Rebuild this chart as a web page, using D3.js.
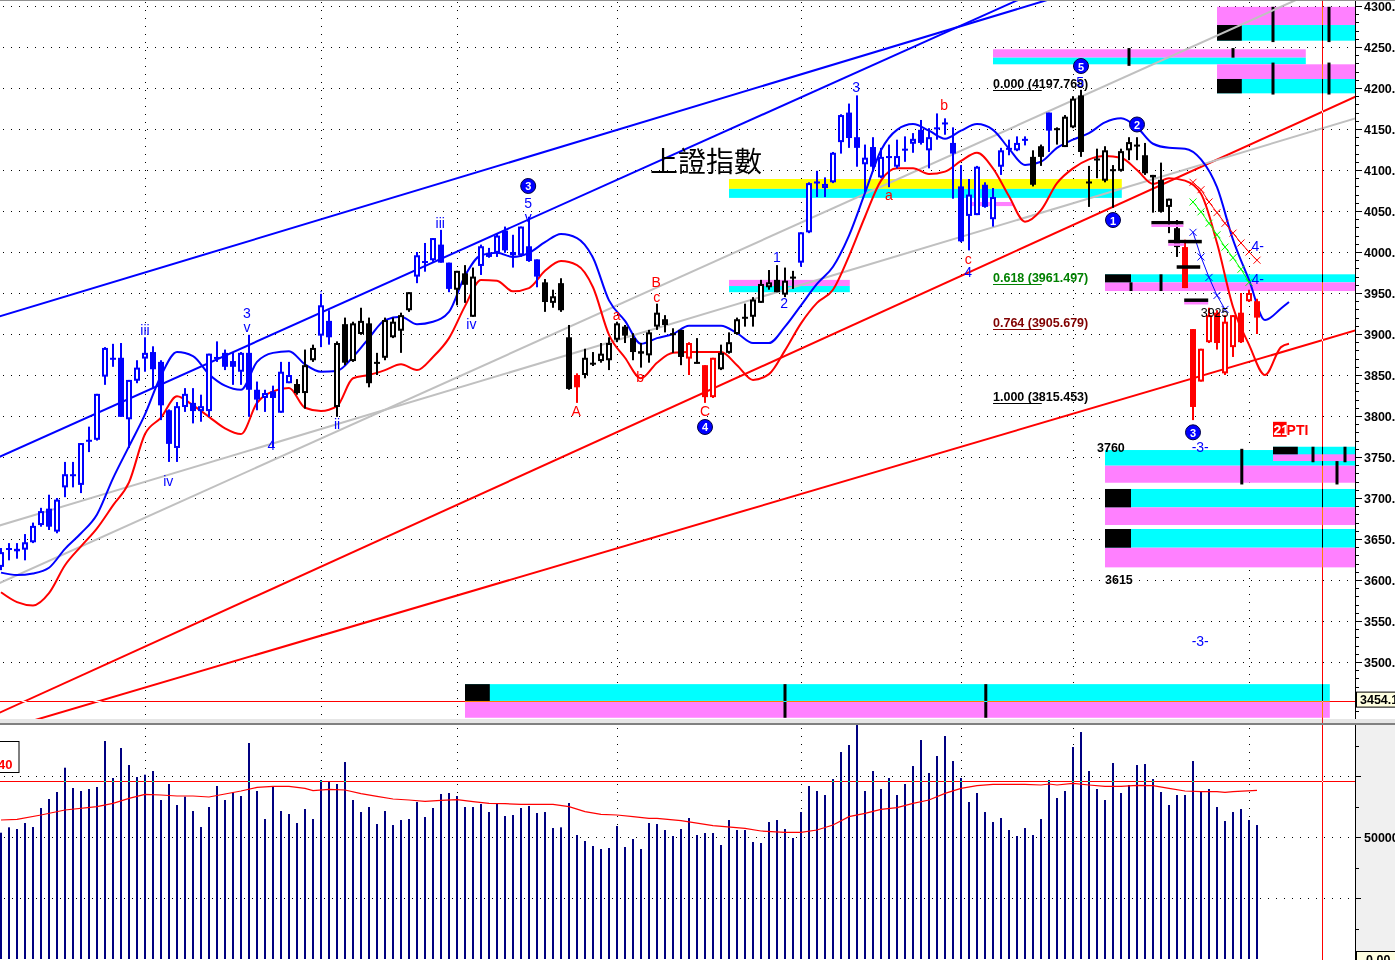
<!DOCTYPE html>
<html><head><meta charset="utf-8">
<script src="https://cdn.jsdelivr.net/npm/d3@7"></script>
<style>
html,body{margin:0;padding:0;background:#fff;overflow:hidden}
svg{display:block}
text{font-family:"Liberation Sans",Arial,sans-serif}
</style></head><body>
<svg id="c" width="1395" height="960"></svg>
<script>
// ---------------- DATA ----------------
const opens = [3616,3637,3635,3637,3646,3667,3687,3659,3713,3728,
3716,3770,3771,3848,3870,3871,3796,3843,3870,3878,
3866,3807,3761,3811,3816,3806,3806,3871,3877,3867,
3854,3877,3832,3822,3830,3804,3840,3839,3828,3868,
3898,3916,3811,3912,3867,3900,3913,3866,3871,3896,
3904,3929,3970,3988,3990,4009,3987,3954,3974,3921,
3983,3999,3999,4026,3996,3996,4007,3991,3963,3938,
3962,3896,3850,3850,3863,3867,3868,3893,3909,3895,
3879,3874,3909,3918,3901,3905,3870,3865,3862,3823,
3857,3877,3900,3920,3921,3938,3957,3966,3948,3969,
3987,4024,4085,4078,4085,4134,4170,4140,4107,4128,
4091,4116,4104,4125,4132,4149,4124,4151,4157,4133,
4080,4044,4045,4082,4040,4104,4126,4124,4137,4116,
4129,4170,4150,4128,4152,4191,4085,4113,4087,4100,
4099,4124,4130,4118,4094,4088,4055,4029,4006,3906,
3842,3890,3926,3852,3884,3926,3940,3940];
const highs = [3639,3645,3645,3656,3670,3688,3704,3700,3744,3744,
3767,3787,3827,3884,3888,3889,3844,3868,3896,3885,
3868,3808,3817,3834,3834,3826,3876,3891,3881,3878,
3878,3899,3842,3832,3837,3866,3866,3845,3881,3887,
3949,3929,3891,3920,3915,3932,3920,3877,3920,3920,
3926,3951,4000,4011,4017,4027,3987,3977,3984,3981,
4009,4005,4023,4031,4021,4031,4043,3991,3967,3954,
3968,3911,3852,3882,3878,3889,3896,3915,3911,3901,
3889,3905,3937,3923,3907,3905,3890,3895,3862,3871,
3887,3902,3920,3937,3945,3966,3978,3984,3981,3977,
4024,4085,4099,4091,4122,4168,4181,4191,4131,4140,
4127,4131,4137,4141,4145,4161,4151,4169,4163,4152,
4106,4089,4105,4085,4078,4127,4137,4141,4141,4124,
4131,4170,4152,4167,4190,4197.77,4105,4126,4129,4106,
4126,4140,4140,4133,4094,4109,4065,4039,4015,3906,
3882,3932,3929,3923,3923,3950,3954,3943];
const lows = [3612,3624,3626,3624,3645,3665,3661,3657,3701,3713,
3706,3756,3770,3838,3860,3799,3761,3840,3854,3834,
3795,3744,3744,3805,3791,3793,3799,3866,3856,3838,
3838,3799,3807,3805,3761,3804,3840,3826,3809,3866,
3884,3887,3799,3862,3866,3899,3835,3850,3868,3895,
3877,3927,3962,3976,3988,3987,3951,3935,3938,3921,
3972,3993,3994,3999,3981,3994,3988,3957,3927,3932,
3927,3832,3816,3846,3861,3865,3856,3890,3889,3868,
3859,3865,3905,3902,3877,3862,3850,3864,3816,3822,
3856,3876,3899,3909,3909,3938,3954,3951,3945,3955,
3982,4023,4067,4067,4084,4120,4127,4104,4073,4098,
4090,4079,4102,4110,4121,4131,4102,4137,4143,4065,
4012,4002,4045,4054,4031,4094,4118,4123,4130,4080,
4105,4122,4131,4128,4151,4116,4055,4090,4085,4054,
4098,4112,4112,4094,4048,4048,4023,3994,3956,3795,
3842,3889,3881,3850,3872,3889,3939,3900];
const closes = [3634,3639,3638,3646,3666,3684,3665,3698,3729,3729,
3767,3771,3827,3883,3871,3799,3844,3859,3877,3857,
3813,3766,3812,3827,3806,3812,3876,3872,3860,3860,
3877,3832,3820,3828,3822,3854,3850,3828,3862,3883,
3935,3896,3889,3865,3913,3916,3840,3866,3917,3915,
3923,3951,3996,3989,4017,3987,3955,3977,3960,3970,
4007,3994,4020,4002,4000,4031,3989,3970,3939,3946,
3929,3833,3835,3871,3865,3876,3889,3913,3898,3878,
3876,3902,3926,3911,3901,3872,3889,3866,3823,3871,
3877,3890,3918,3921,3942,3961,3963,3951,3965,3970,
4024,4084,4086,4083,4121,4167,4139,4127,4115,4104,
4116,4117,4117,4126,4138,4133,4140,4152,4158,4120,
4013,4070,4104,4055,4067,4124,4127,4133,4138,4082,
4116,4148,4151,4165,4187,4122,4086,4114,4124,4101,
4123,4134,4131,4096,4091,4049,4065,4006,3956,3811,
3882,3923,3889,3915,3923,3890,3950,3920];
// b = blue, k = black, r = red
const candleColors = "bbbbbbbbbb"+"bbbbbbbbbb"+"bbbbbbbbbb"+"bbbbbbb"+"kkk"+"bb"+"kkkkkkkkkk"+"bbbbb"+"kkk"+"bbbbbbbb"+"kkkk"+"r"+"kkkkkkkkkkkkk"+"r"+"k"+"rr"+"kkkkkkkkkk"+"bbbbbbbbbb"+"bbbbbbbbbb"+"bbbbbbbbb"+"kk"+"b"+"kkkkkkkkkkkkkkkk"+"rrrrrrrrrr";

const volumes = [51760,53960,53270,55730,54090,61880,65570,68440,78400,70080,
68850,69670,70490,89340,74170,86470,79500,74580,75540,77040,
65160,71720,63110,66520,60650,54090,62290,70900,65160,68160,
66800,88520,68850,57370,70620,60650,59420,55730,61470,57370,
73350,72530,71720,80730,65160,60240,62290,55320,60650,54910,
56960,57370,64340,58190,61880,67620,68030,66800,62290,62290,
63520,60240,63930,58600,59010,61880,62700,59830,60240,53680,
53960,63930,50820,48360,46310,45080,45490,54500,45900,49180,
45080,55730,55320,52860,50410,53270,57780,50820,51630,51630,
46720,56960,52860,52860,47950,47540,56140,56960,53270,49590,
60240,70900,68850,67210,73760,84830,87700,95890,68850,77040,
69670,74170,67210,71720,79090,89750,76220,83190,91390,81140,
74170,64340,68030,60240,56140,57780,52860,50410,53680,50820,
57370,73350,65980,68850,86880,93020,77040,69670,65160,80320,
68030,71310,79500,79910,73760,68440,63110,67210,67210,81140,
68440,69670,62290,56550,60240,61470,56960,54910];

const volMaIdx = [0,2,5,8,12,14,16,18,20,22,24,26,28,30,32,34,36,38,39,41,43,45,47,49,51,53,55,57,59,61,63,65,67,69,71,73,75,77,79,81,82,85,89,93,95,98,100,102,104,106,108,110,112,114,116,118,120,122,124,126,128,130,131,132,134,136,138,140,142,144,146,148,150,152,153,154,157];
const volMaVal = [56960,57230,59010,61060,62430,63790,65840,67480,67210,66800,66800,66390,67620,68850,70350,70760,70760,69940,68990,69530,69260,67760,66660,65570,65160,64610,65020,65300,64480,63790,63660,63380,63380,63380,62430,60370,59280,59010,58330,57640,57640,56690,54640,53540,52450,51900,51900,52860,54910,58330,59700,61330,62020,63790,65160,67890,69940,71030,71580,71580,71580,71310,71720,71310,71990,71310,70760,70760,71170,71030,69940,68850,68580,68580,68300,68580,69120];

const bandIdx = [0,2,4,6,8,10,12,14,16,18,20,22,24,26,28,30,32,34,36,38,40,42,44,46,48,50,52,54,56,58,60,62,64,66,68,70,72,74,76,78,80,82,84,86,88,90,92,94,96,98,100,102,104,106,108,110,112,114,116,118,120,122,124,126,128,130,132,134,136,138,140,142,144,146,148,150,152,154,156,158,160,161];
const bandUpper = [3609,3606,3608,3615,3638,3657,3680,3724,3763,3802,
3849,3878,3873,3851,3837,3832,3866,3877,3879,3863,
3854,3855,3872,3895,3917,3921,3912,3915,3927,3971,
3996,3999,3994,3999,4012,4022,4017,3993,3941,3916,
3888,3895,3900,3910,3910,3910,3901,3889,3889,3909,
3935,3961,3982,4020,4072,4124,4149,4156,4148,4138,
4148,4156,4149,4126,4106,4110,4127,4137,4145,4158,
4163,4152,4132,4127,4126,4113,4079,4015,3966,3917,
3931,3939];
const bandLower = [3585,3573,3569,3584,3618,3641,3663,3691,3719,3778,
3798,3824,3813,3799,3785,3778,3816,3830,3834,3810,
3806,3812,3846,3850,3856,3863,3856,3872,3895,3934,
3966,3965,3952,3956,3977,3989,3984,3957,3899,3871,
3846,3865,3877,3878,3878,3878,3862,3844,3851,3880,
3913,3938,3954,3995,4043,4087,4102,4102,4095,4098,
4111,4121,4102,4068,4037,4051,4084,4102,4113,4117,
4115,4100,4083,4090,4087,4071,4011,3933,3887,3850,
3884,3888];

const priceTicks = [3500,3550,3600,3650,3700,3750,3800,3850,3900,3950,4000,4050,4100,4150,4200,4250,4300];
const monthIdx = [18,40,57,77,100,120,134,156];

// trendlines: start index/price, end index/price
const lineI0 = [0,0,0,0,0,0];
const lineP0 = [3922,3751,3439,3417,3597,3667];
const lineI1 = [130,125,169,169,165,169];
const lineP1 = [4305,4298,4188,3903.5,4321,4162];
const lineKind = ["blue","blue","red","red","gray","gray"];

// price zones
const zoneStart = [58.0,91.0,120.9,91.0,138.0,124.0,152.0,152.0,138.0,159.0,138.0,138.0];
const zoneEnd   = [166.1,140.1,126.5,106.1,169.25,163.1,169.25,169.25,169.25,169.25,169.25,169.25];
const zoneTop   = [3473,4089,4061,3966,3972.8,4247.2,4299,4228.9,3758.5,3762.5,3711,3662.2];
const zoneMid   = [3452.5,4077,4056,3958.5,3963,4237,4276.8,4211,3739.4,3753.3,3688.6,3639.4];
const zoneBot   = [3432,4066,4056,3951,3952.4,4228.9,4257.7,4193.5,3718.6,3745.1,3667.1,3615.4];
const zoneKind  = ["cm","yc","m","mc","cm","mc","mc","mc","cm","cm","cm","cm"];
const zoneBlockEnd = [61.1,null,null,null,141.25,null,155.1,155.1,null,162.1,141.25,141.25];
const tickIdx  = [98.0,123.1,141.25,145.0,141.0,154.0,159.0,166.0,159.0,166.0,155.1,167.0,164.0,168.0];
const tickTop  = [3473,3473,3963,3972.8,4248.7,4248.7,4299,4299,4231,4231,3760,3745,3762.5,3762.5];
const tickBot  = [3432,3432,3952.4,3952.4,4227,4237,4256,4256,4192,4192,3716.5,3716.5,3743.6,3743.6];

// fibonacci levels
const fibRatio = ["0.000","0.618","0.764","1.000"];
const fibPrice = [4197.768,3961.497,3905.679,3815.453];
const fibColor = ["#000000","#008000","#800000","#000000"];

// wave labels
const waveText  = ["iii","3","v","iv","4","i","ii","iii","iv","5","v","1","2","3","4","5","-3-","-3-","4-","4-"];
const waveIdx   = [18.0,30.75,30.75,20.9,33.8,40,42,54.9,58.8,65.9,65.9,97,97.9,106.9,120.9,134.9,149.9,149.9,157.1,157.1];
const wavePrice = [3904.9,3925.6,3908.5,3720.7,3764.6,3945.1,3790.2,4035.4,3912.2,4059.7,4043.0,3994.3,3938.2,4201.2,3976.0,4207.7,3762.2,3525.6,4007.3,3967.1];
const abcText  = ["A","a","b","B","c","C","a","b","c"];
const abcIdx   = [71.9,76.96,79.9,81.9,81.96,88,111,117.9,120.9];
const abcPrice = [3806.5,3923.2,3847.9,3963.8,3944.7,3806.5,4069.5,4179.3,3991.5];
const circleText  = ["3","4","5","2","1","3"];
const circleIdx   = [65.9,88,135,142,139,149];
const circlePrice = [4080.5,3786.6,4226.8,4155.5,4039.0,3780.1];

// projection crosses
const redXIdx = [149,150,151,152,153,154,155,156,157];
const redXVal = [4085,4076,4061,4048,4035,4023,4011,4000,3990];
const greenXIdx = [149,150,151,152,153,154,155,156];
const greenXVal = [4061,4049,4035,4021,4006,3993,3979,3963];
const blueXIdx = [149,150,151,152,153];
const blueXVal = [4024,3994,3969,3947,3930];

// target marks
const markStart = [143.8,145.9,146.96,147.9];
const markEnd   = [147.8,150.1,149.9,150.9];
const markLineEnd = [147.8,147.9,null,150.9];
const markPrice = [4036,4013,3982,3941.5];

const cursorIdx = 165.1, cursorPrice = 3453, cursorVol = 72940;

// ---------------- DRAW ----------------
const svg = d3.select('#c');
const PW = 1355, PH = 719, VT = 725, VB = 960;
const x = d3.scaleLinear().domain([0,169.25]).range([1,1355]);
const y = d3.scaleLinear().domain([3500,4300]).range([662,6]);
const yv = d3.scaleLinear().domain([0,50000]).range([959,837]);
const BLUE="#0000ff", RED="#ff0000", CYAN="#00ffff", MAG="#ff80ff", YEL="#ffff00";
const colorMap = {b:BLUE,k:"#000000",r:RED};

svg.append('rect').attr('width',1395).attr('height',960).attr('fill','#fff');
const defs = svg.append('defs');
defs.append('clipPath').attr('id','pc').append('rect').attr('x',0).attr('y',0).attr('width',PW).attr('height',PH);
defs.append('clipPath').attr('id','vc').append('rect').attr('x',0).attr('y',VT).attr('width',PW).attr('height',VB-VT);

const P = svg.append('g').attr('clip-path','url(#pc)');

// grid
const grid = P.append('g').attr('stroke','#000').attr('stroke-width',1).attr('stroke-dasharray','1,7');
priceTicks.forEach(v=>{
  const yy = Math.round(y(v))+0.5;
  grid.append('line').attr('x1',3).attr('x2',PW).attr('y1',yy).attr('y2',yy);
});
monthIdx.forEach(i=>{
  const xx = Math.round(x(i))+0.5;
  grid.append('line').attr('x1',xx).attr('x2',xx).attr('y1',2).attr('y2',PH);
});

// zones
const Z = P.append('g');
zoneStart.forEach((s,k)=>{
  const x0 = x(s), x1 = x(zoneEnd[k]);
  const yT = y(zoneTop[k]), yM = y(zoneMid[k]), yB = y(zoneBot[k]);
  const kind = zoneKind[k];
  const cTop = kind==='cm'?CYAN:(kind==='yc'?YEL:MAG);
  const cBot = kind==='cm'?MAG:CYAN;
  if(kind==='m'){
    Z.append('rect').attr('x',x0).attr('y',yT).attr('width',x1-x0).attr('height',yB-yT).attr('fill',MAG);
    return;
  }
  Z.append('rect').attr('x',x0).attr('y',yT).attr('width',x1-x0).attr('height',yM-yT).attr('fill',cTop);
  Z.append('rect').attr('x',x0).attr('y',yM).attr('width',x1-x0).attr('height',yB-yM).attr('fill',cBot);
  if(zoneBlockEnd[k]!==null){
    const xb = x(zoneBlockEnd[k]);
    if(kind==='cm') Z.append('rect').attr('x',x0).attr('y',yT).attr('width',xb-x0).attr('height',yM-yT).attr('fill','#000');
    else Z.append('rect').attr('x',x0).attr('y',yM).attr('width',xb-x0).attr('height',yB-yM).attr('fill','#000');
  }
});
tickIdx.forEach((t,k)=>{
  Z.append('rect').attr('x',x(t)-1.5).attr('y',y(tickTop[k])).attr('width',3)
   .attr('height',y(tickBot[k])-y(tickTop[k])).attr('fill','#000');
});

// trendlines
const lineColors = {blue:BLUE, red:RED, gray:"#c0c0c0"};
lineI0.forEach((i0,k)=>{
  const xa = x(i0), ya = y(lineP0[k]), xb = x(lineI1[k]), yb = y(lineP1[k]);
  const m = (yb-ya)/(xb-xa);
  const X0 = -20, X1 = 1400;
  P.append('line').attr('x1',X0).attr('y1',ya+m*(X0-xa)).attr('x2',X1).attr('y2',ya+m*(X1-xa))
   .attr('stroke',lineColors[lineKind[k]]).attr('stroke-width',2);
});

// band curves
const bandLine = (vals)=> d3.line().x((d,j)=>x(bandIdx[j])).y(d=>y(d)).curve(d3.curveMonotoneX)(vals);
P.append('path').attr('d',bandLine(bandUpper)).attr('fill','none').attr('stroke',BLUE).attr('stroke-width',2);
P.append('path').attr('d',bandLine(bandLower)).attr('fill','none').attr('stroke',RED).attr('stroke-width',2);

// projection crosses
function crosses(idx, vals, col){
  const g = P.append('g').attr('stroke',col).attr('fill','none').attr('stroke-width',1);
  g.append('path').attr('d', d3.line().x((d,j)=>x(idx[j])).y(d=>y(d))(vals));
  idx.forEach((i,j)=>{
    const cx = x(i), cy = y(vals[j]);
    g.append('path').attr('d',`M${cx-3.5},${cy-3.5}L${cx+3.5},${cy+3.5}M${cx-3.5},${cy+3.5}L${cx+3.5},${cy-3.5}`);
  });
}
crosses(redXIdx, redXVal, RED);
crosses(greenXIdx, greenXVal, "#00ff00");
crosses(blueXIdx, blueXVal, BLUE);

// candles
const C = P.append('g');
opens.forEach((o,i)=>{
  const cx = Math.round(x(i));
  const col = colorMap[candleColors[i]];
  const h = highs[i], l = lows[i], c = closes[i];
  C.append('rect').attr('x',cx-1).attr('y',y(h)).attr('width',2).attr('height',Math.max(1,y(l)-y(h))).attr('fill',col);
  const top = y(Math.max(o,c)), bot = y(Math.min(o,c));
  const bh = Math.max(bot-top,2);
  if(c>o && bh>3){
    C.append('rect').attr('x',cx-2).attr('y',top+1).attr('width',4).attr('height',bh-2)
     .attr('fill','#fff').attr('stroke',col).attr('stroke-width',2);
  } else {
    C.append('rect').attr('x',cx-3).attr('y',top).attr('width',6).attr('height',bh).attr('fill',col);
  }
});

// target marks
markStart.forEach((s,k)=>{
  const yy = y(markPrice[k]);
  P.append('rect').attr('x',x(s)).attr('y',yy-1.5).attr('width',x(markEnd[k])-x(s)).attr('height',3.5).attr('fill','#000');
  if(markLineEnd[k]!==null)
    P.append('rect').attr('x',x(s)).attr('y',yy+2).attr('width',x(markLineEnd[k])-x(s)).attr('height',2.5).attr('fill',MAG);
});

// fib labels
fibPrice.forEach((p,k)=>{
  const yy = y(p);
  P.append('line').attr('x1',x(124)).attr('x2',x(130.1)).attr('y1',Math.round(yy)+0.5).attr('y2',Math.round(yy)+0.5)
   .attr('stroke',fibColor[k]).attr('stroke-width',1);
  P.append('text').attr('x',x(124)).attr('y',yy-2).attr('fill',fibColor[k])
   .attr('font-size','12.5px').attr('font-weight','bold')
   .text(`${fibRatio[k]} (${p.toFixed(3)})`);
});

// title
P.append('text').attr('x',650).attr('y',172).attr('font-size','28px')
 .style('font-family','"Noto Sans CJK TC","Noto Sans CJK SC",sans-serif').attr('fill','#000').text('上證指數');

// wave labels
waveText.forEach((t,k)=>{
  P.append('text').attr('x',x(waveIdx[k])).attr('y',y(wavePrice[k])).attr('text-anchor','middle')
   .attr('dominant-baseline','central').attr('font-size','14px').attr('fill',BLUE).text(t);
});
abcText.forEach((t,k)=>{
  P.append('text').attr('x',x(abcIdx[k])).attr('y',y(abcPrice[k])).attr('text-anchor','middle')
   .attr('dominant-baseline','central').attr('font-size','14px').attr('fill',RED).text(t);
});
circleText.forEach((t,k)=>{
  const cx = x(circleIdx[k]), cy = y(circlePrice[k]);
  P.append('circle').attr('cx',cx).attr('cy',cy).attr('r',7.5).attr('fill',BLUE).attr('stroke','#000040').attr('stroke-width',1);
  P.append('text').attr('x',cx).attr('y',cy+0.5).attr('text-anchor','middle').attr('dominant-baseline','central')
   .attr('font-size','11px').attr('font-weight','bold').attr('fill','#fff').text(t);
});
P.append('text').attr('x',x(151.7)).attr('y',y(3925.6)).attr('text-anchor','middle').attr('dominant-baseline','central')
 .attr('font-size','12.5px').attr('fill','#000').text('3925');
P.append('text').attr('x',x(137.0)).attr('y',y(3756.1)).attr('font-size','12.5px').attr('font-weight','bold').attr('fill','#000').text('3760');
P.append('text').attr('x',x(138.0)).attr('y',y(3595.1)).attr('font-size','12.5px').attr('font-weight','bold').attr('fill','#000').text('3615');
// 21PTI
P.append('rect').attr('x',x(159.0)).attr('y',y(3792.9)).attr('width',x(160.7)-x(159.0)).attr('height',y(3774.6)-y(3792.9)).attr('fill',RED);
P.append('text').attr('x',x(159.0)+0.5).attr('y',y(3776.5)).attr('font-size','14px').attr('font-weight','bold').attr('fill','#fff').text('21');
P.append('text').attr('x',x(160.7)).attr('y',y(3776.5)).attr('font-size','14px').attr('font-weight','bold').attr('fill',RED).text('PTI');

// ---------------- VOLUME PANEL ----------------
const V = svg.append('g').attr('clip-path','url(#vc)');
const vgrid = V.append('g').attr('stroke','#000').attr('stroke-dasharray','1,7');
[25000,50000,75000].forEach(v=>{
  const yy = Math.round(yv(v))+0.5;
  vgrid.append('line').attr('x1',4).attr('x2',PW).attr('y1',yy).attr('y2',yy);
});
monthIdx.forEach(i=>{
  const xx = Math.round(x(i))+0.5;
  vgrid.append('line').attr('x1',xx).attr('x2',xx).attr('y1',VT+3).attr('y2',VB);
});
volumes.forEach((v,i)=>{
  const cx = Math.round(x(i));
  V.append('rect').attr('x',cx-1).attr('y',yv(v)).attr('width',2).attr('height',yv(0)-yv(v)).attr('fill','#000080');
});
V.append('path').attr('d', d3.line().x((d,j)=>x(volMaIdx[j])).y(d=>yv(d))(volMaVal))
 .attr('fill','none').attr('stroke',RED).attr('stroke-width',1.2);
// left value box
svg.append('rect').attr('x',-1).attr('y',741.5).attr('width',20).attr('height',31).attr('fill','#fff').attr('stroke','#000');
svg.append('text').attr('x',-2).attr('y',769).attr('font-size','13px').attr('font-weight','bold').attr('fill',RED).text('40');

// ---------------- AXES ----------------
svg.append('rect').attr('x',1356).attr('y',VT).attr('width',39).attr('height',VB-VT).attr('fill','#f0f0f0');
svg.append('line').attr('x1',1355.5).attr('x2',1355.5).attr('y1',0).attr('y2',PH).attr('stroke','#000');
svg.append('line').attr('x1',1355.5).attr('x2',1355.5).attr('y1',VT).attr('y2',VB).attr('stroke','#000');
const ax = svg.append('g');
for(let v=3440; v<=4300; v+=10){
  const yy = Math.round(y(v))+0.5;
  if(yy>PH) continue;
  const major = v%50===0;
  ax.append('line').attr('x1',1356).attr('x2',major?1362:1359).attr('y1',yy).attr('y2',yy).attr('stroke','#000');
}
priceTicks.forEach(v=>{
  ax.append('text').attr('x',1364).attr('y',y(v)+4.5).attr('font-size','12.5px').attr('font-weight','bold')
    .attr('fill','#000').text(v.toFixed(2));
});
// current-value box
const cyy = y(3454.13);
ax.append('rect').attr('x',1356.5).attr('y',cyy-7.5).attr('width',40).attr('height',15).attr('fill','#ffffe0').attr('stroke','#000');
ax.append('text').attr('x',1360).attr('y',cyy+4.5).attr('font-size','12.5px').attr('font-weight','bold').attr('fill','#000').text('3454.13');
// volume axis
for(let v=0; v<=90000; v+=12500){
  const yy = Math.round(yv(v))+0.5;
  if(yy<VT) continue;
  ax.append('line').attr('x1',1356).attr('x2',v%25000===0?1361:1359).attr('y1',yy).attr('y2',yy).attr('stroke','#000');
}
ax.append('text').attr('x',1364).attr('y',yv(50000)+4.5).attr('font-size','12.5px').attr('font-weight','bold').attr('fill','#000').text('50000.0');
ax.append('rect').attr('x',1356.5).attr('y',951.5).attr('width',40).attr('height',15).attr('fill','#ffffe0').attr('stroke','#000');
ax.append('text').attr('x',1366).attr('y',964).attr('font-size','12.5px').attr('font-weight','bold').attr('fill','#000').text('0.00');

// separators
svg.append('rect').attr('x',0).attr('y',PH).attr('width',1395).attr('height',4).attr('fill','#e6e6e6');
svg.append('line').attr('x1',0).attr('x2',1395).attr('y1',724).attr('y2',724).attr('stroke','#808080').attr('stroke-width',2);
svg.append('line').attr('x1',0).attr('x2',1395).attr('y1',0.5).attr('y2',0.5).attr('stroke','#909090');

// cursor (XOR-like pen: cyan + difference = red on white)
const cur = svg.append('g').style('mix-blend-mode','difference');
const cxp = Math.round(x(cursorIdx))+0.5;
svg.append('line').attr('x1',cxp).attr('x2',cxp).attr('y1',0).attr('y2',VB).attr('stroke',CYAN).style('mix-blend-mode','difference');
svg.append('line').attr('x1',0).attr('x2',PW).attr('y1',Math.round(y(cursorPrice))+0.5).attr('y2',Math.round(y(cursorPrice))+0.5).attr('stroke',CYAN).style('mix-blend-mode','difference');
svg.append('line').attr('x1',0).attr('x2',PW).attr('y1',Math.round(yv(cursorVol))+0.5).attr('y2',Math.round(yv(cursorVol))+0.5).attr('stroke',CYAN).style('mix-blend-mode','difference');
</script>
</body></html>
